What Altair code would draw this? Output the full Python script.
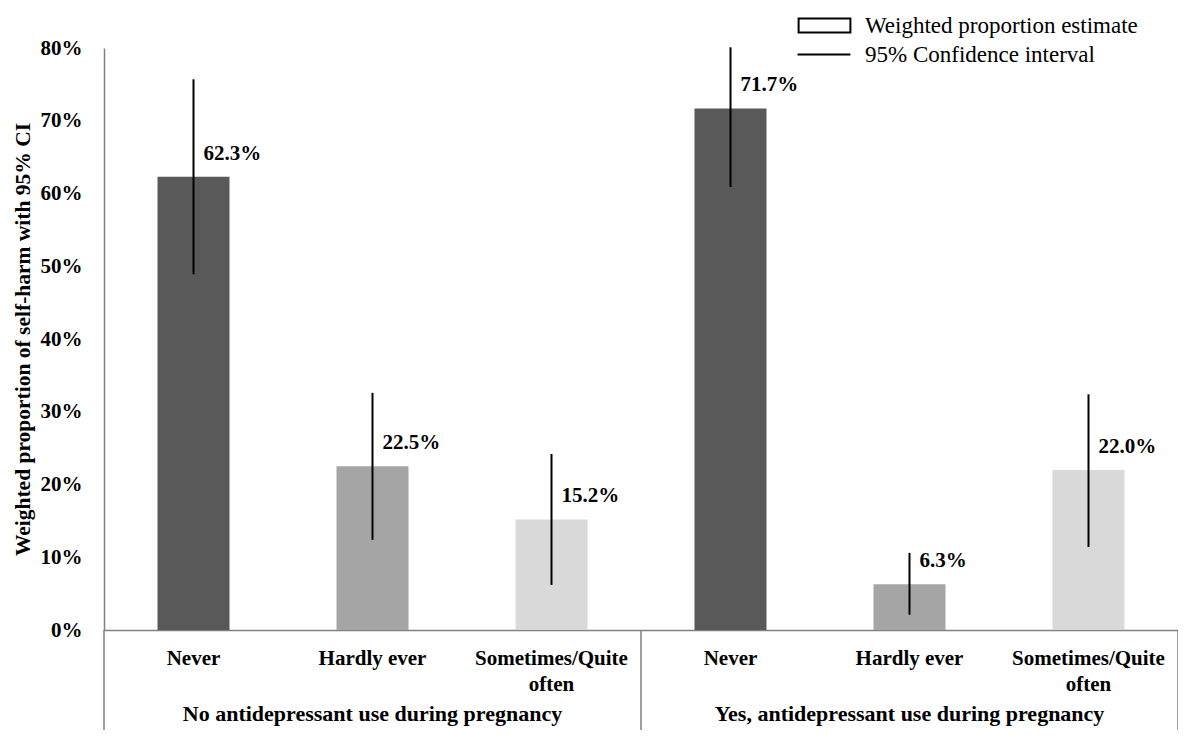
import altair as alt
import pandas as pd

# ---- data ----
group_codes = ["No", "No", "No", "Yes", "Yes", "Yes"]
categories = ["Never", "Hardly ever", "Sometimes/Quite often"] * 2
values = [0.623, 0.225, 0.152, 0.717, 0.063, 0.220]
ci_low = [0.489, 0.124, 0.062, 0.609, 0.021, 0.114]
ci_high = [0.757, 0.326, 0.242, 0.801, 0.106, 0.324]
value_labels = ["62.3%", "22.5%", "15.2%", "71.7%", "6.3%", "22.0%"]
cat_order = ["Never", "Hardly ever", "Sometimes/Quite often"]
bar_colors = ["#595959", "#a5a5a5", "#d9d9d9"]
group_labels = ["No antidepressant use during pregnancy",
                "Yes, antidepressant use during pregnancy"]
group_centre_keys = ["No|Hardly ever", "Yes|Hardly ever"]
legend_items = ["Weighted proportion estimate", "95% Confidence interval"]
y_ticks = [0, 0.1, 0.2, 0.3, 0.4, 0.5, 0.6, 0.7, 0.8]
y_title = "Weighted proportion of self-harm with 95% CI"

keys = [f"{g}|{c}" for g, c in zip(group_codes, categories)]
df = pd.DataFrame({"key": keys, "cat": categories, "value": values,
                   "lo": ci_low, "hi": ci_high, "label": value_labels})

FONT = "'Liberation Serif', 'Times New Roman', 'DejaVu Serif', serif"
AX = "#808080"
W, H = 1074, 582

x_enc = alt.X(
    "key:N", sort=keys, title=None,
    scale=alt.Scale(domain=keys, paddingInner=0, paddingOuter=0),
    axis=alt.Axis(
        labelExpr="split(datum.value, '|')[1] == 'Sometimes/Quite often' ? "
                  "['Sometimes/Quite', 'often'] : split(datum.value, '|')[1]",
        labelAngle=0, ticks=False, labelPadding=17, labelFont=FONT,
        labelFontSize=21, labelFontWeight="bold", labelColor="black",
        labelLineHeight=26, labelBaseline="top", domainColor=AX, domainWidth=1.5,
        labelLimit=300,
    ),
)

y_enc = alt.Y(
    "value:Q",
    scale=alt.Scale(domain=[0, 0.8], nice=False, zero=True),
    axis=alt.Axis(
        values=y_ticks, format=".0%", ticks=False, grid=False, labelPadding=22,
        labelFont=FONT, labelFontSize=21, labelFontWeight="bold",
        labelColor="black", domainColor=AX, domainWidth=1.5,
        title=y_title, titleFont=FONT, titleFontSize=21.5, titleFontWeight="bold",
        titleColor="black", titlePadding=6,
    ),
)

base = alt.Chart(df)

bars = base.mark_bar(size=72).encode(
    x=x_enc, y=y_enc,
    color=alt.Color("cat:N", scale=alt.Scale(domain=cat_order, range=bar_colors),
                    legend=None),
)

ci = base.mark_rule(color="black", strokeWidth=2).encode(
    x=alt.X("key:N", sort=keys), y="lo:Q", y2="hi:Q"
)

txt = base.mark_text(font=FONT, fontSize=21, fontWeight="bold", align="left",
                     baseline="alphabetic", dx=10, dy=-17, color="black").encode(
    x=alt.X("key:N", sort=keys), y="value:Q", text="label:N"
)

# group dividers below the category axis
div_start = alt.Chart(pd.DataFrame({"key": ["No|Never", "Yes|Never"]})).mark_rule(
    color=AX, strokeWidth=1.5).encode(
    x=alt.X("key:N", sort=keys, bandPosition=0),
    y=alt.value(H), y2=alt.value(H + 110),
)
div_end = alt.Chart(pd.DataFrame({"key": ["Yes|Sometimes/Quite often"]})).mark_rule(
    color=AX, strokeWidth=1.5).encode(
    x=alt.X("key:N", sort=keys, bandPosition=1),
    y=alt.value(H), y2=alt.value(H + 110),
)

grp = alt.Chart(pd.DataFrame({"key": group_centre_keys, "g": group_labels})).mark_text(
    font=FONT, fontSize=22, fontWeight="bold", align="center",
    baseline="alphabetic", color="black").encode(
    x=alt.X("key:N", sort=keys), y=alt.value(H + 91), text="g:N"
)

legend_layer = alt.Chart(pd.DataFrame({"item": legend_items})).mark_point(
    opacity=0, color="black", filled=False, strokeWidth=2).encode(
    shape=alt.Shape(
        "item:N", sort=legend_items,
        scale=alt.Scale(domain=legend_items,
                        range=["M-3.7,-1H3.7V1H-3.7Z", "M-3.85,0H3.7"]),
        legend=alt.Legend(
            title=None, orient="none", legendX=709, legendY=-34,
            labelFont=FONT, labelFontSize=23, labelColor="black",
            symbolSize=196, symbolStrokeWidth=2, symbolStrokeColor="black",
            symbolFillColor="white", rowPadding=5, labelOffset=29, padding=0,
            labelLimit=400,
        ),
    )
)

chart = alt.layer(bars, ci, txt, div_start, div_end, grp, legend_layer).properties(
    width=W, height=H,
    padding={"left": 96, "top": 40, "right": 0, "bottom": 100},
    autosize=alt.AutoSizeParams(type="none"),
    background="white",
).configure_view(stroke=None)

chart.save("out.html", embed_options={"renderer": "svg", "actions": False})
